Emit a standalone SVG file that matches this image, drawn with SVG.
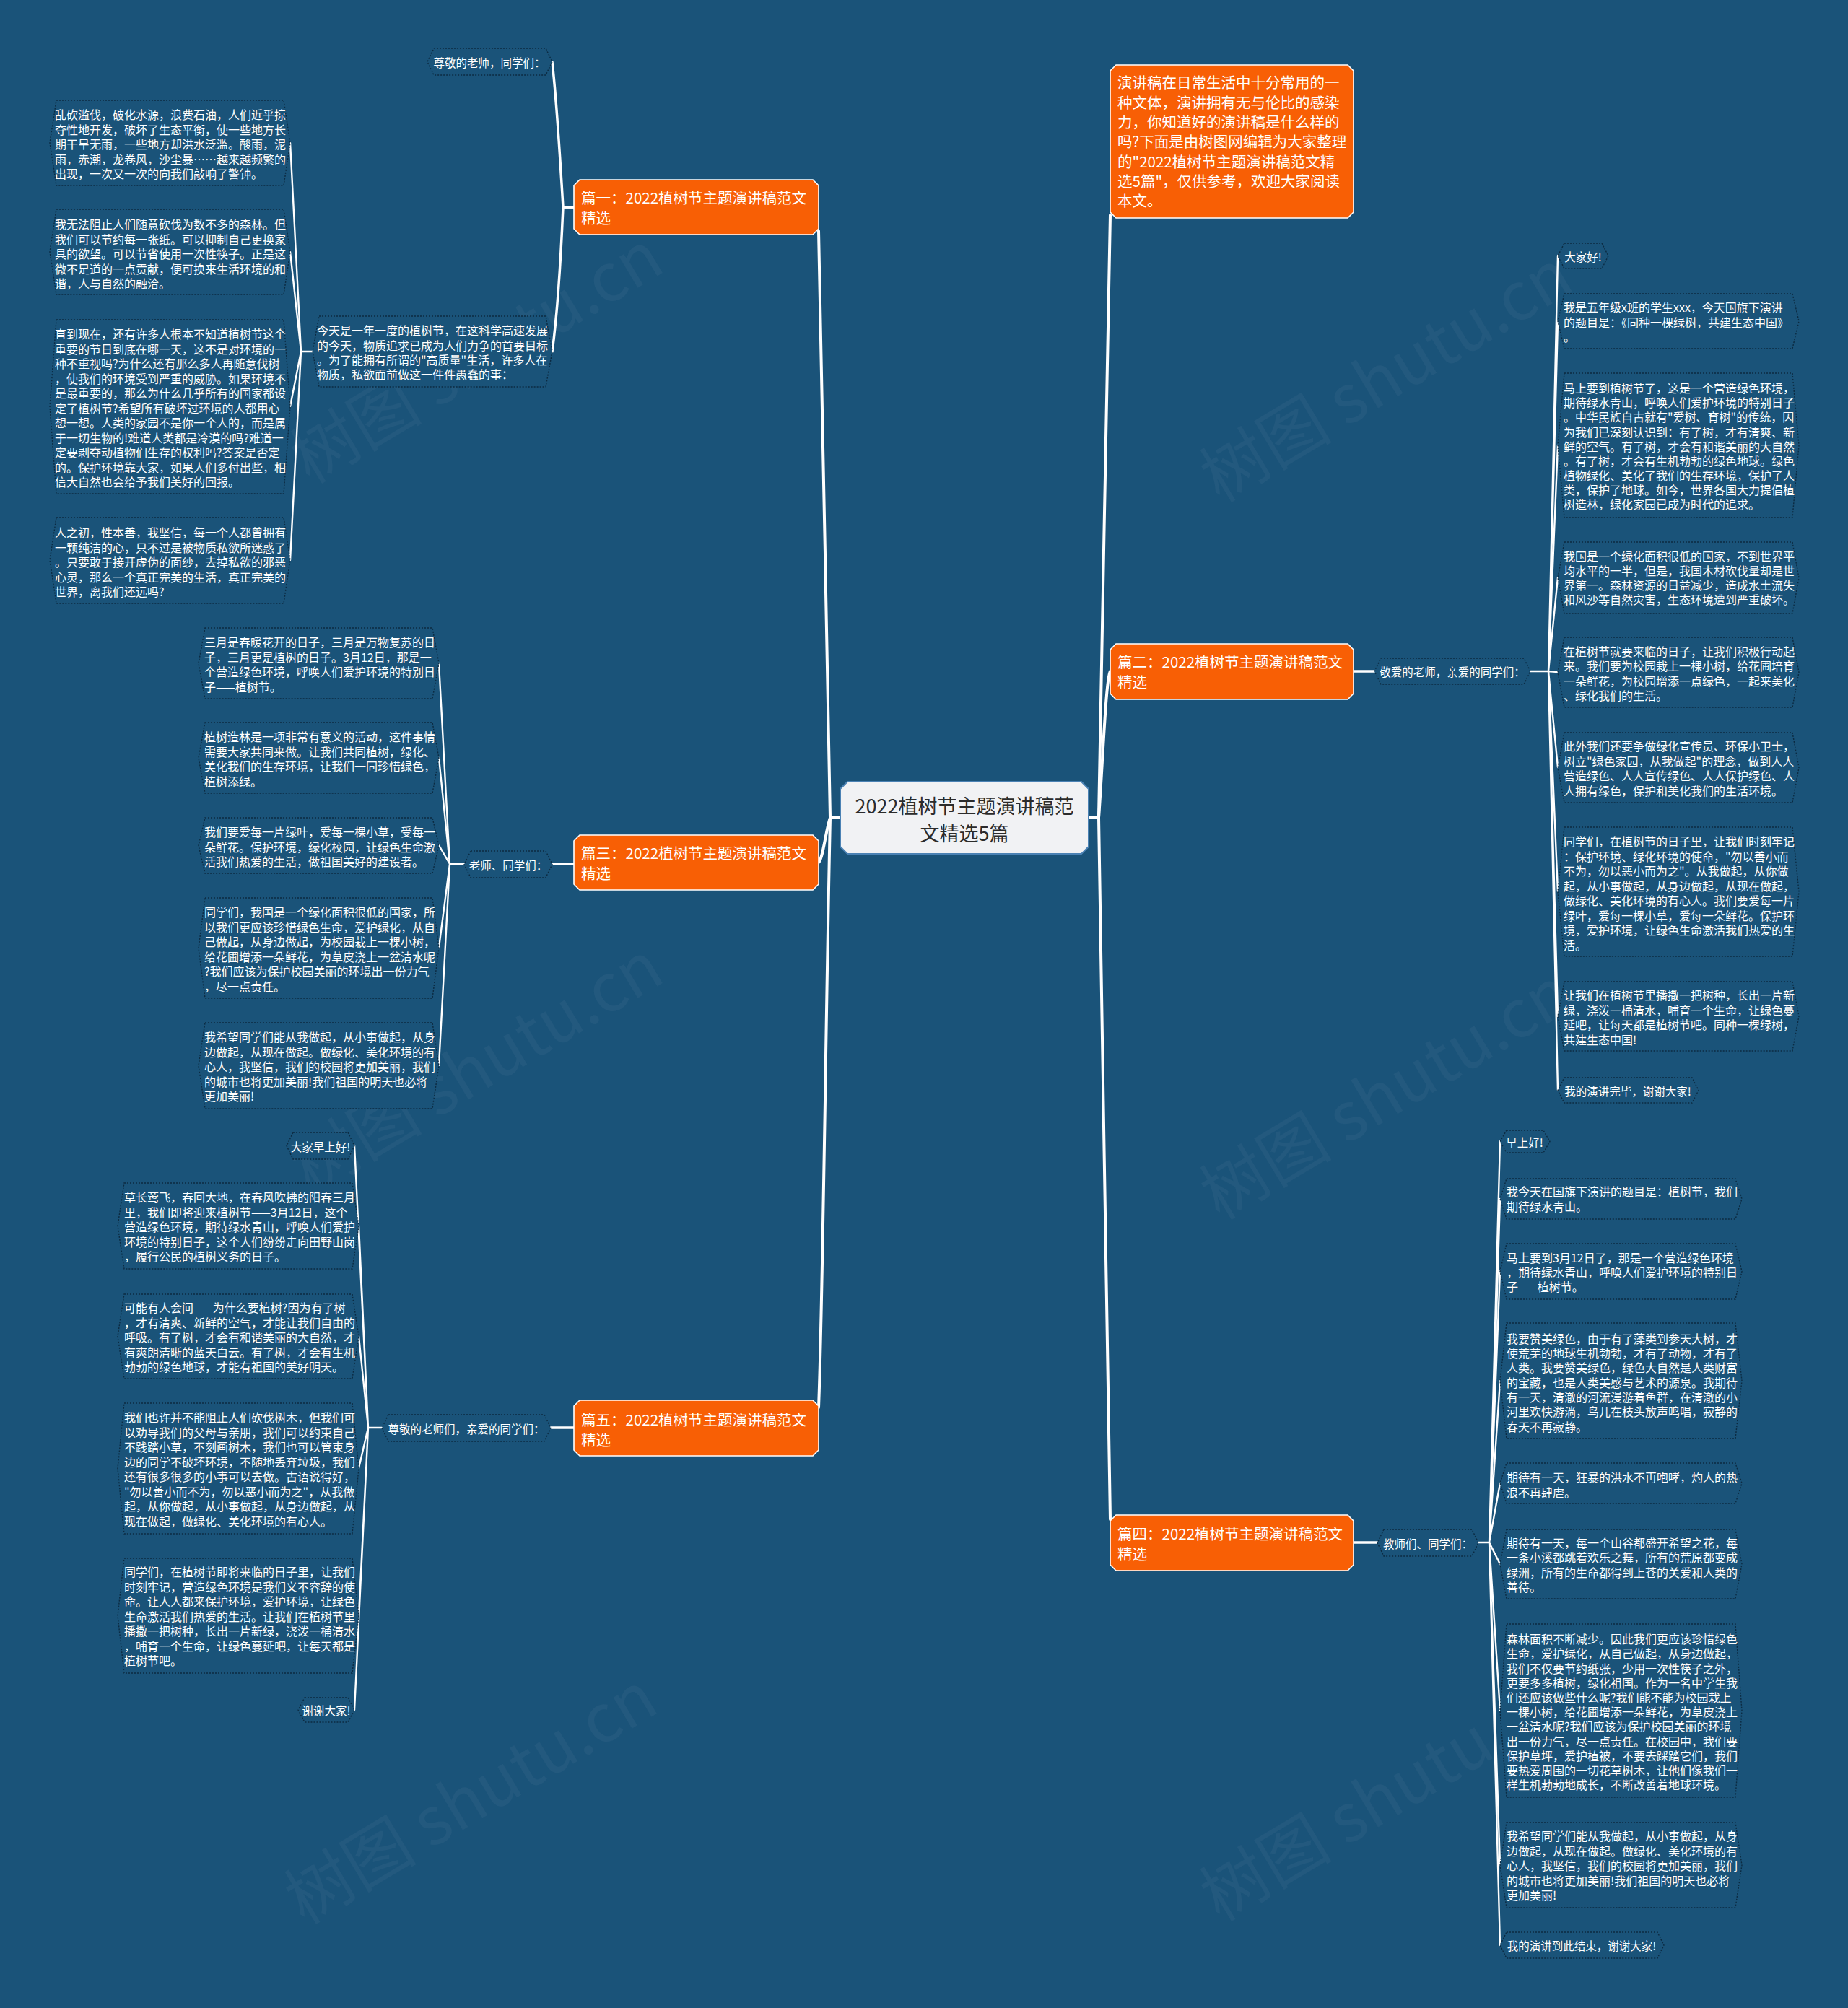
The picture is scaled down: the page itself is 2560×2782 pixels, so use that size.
<svg xmlns="http://www.w3.org/2000/svg" width="2560" height="2782" viewBox="0 0 2560 2782">
<style>
.bg{fill:#1a5379}
.wm{font-family:"Noto Sans CJK SC","Liberation Sans",sans-serif;font-size:92px;fill:#c0ccd6;fill-opacity:0.055}
.leaf{fill:#1a5379;stroke:#0c2b42;stroke-width:1.4;stroke-dasharray:2 2}
.lt{font-family:"Noto Sans CJK SC","Liberation Sans",sans-serif;font-size:16px;fill:#ffffff;dominant-baseline:central}
.st{font-family:"Noto Sans CJK SC","Liberation Sans",sans-serif;font-size:15.5px;fill:#ffffff;dominant-baseline:central;text-anchor:middle}
.org{fill:#f85f05;stroke:#ffffff;stroke-width:1.6}
.ot{font-family:"Noto Sans CJK SC","Liberation Sans",sans-serif;font-size:20.5px;fill:#ffffff;dominant-baseline:central}
.ctr{fill:#f1f2f4;stroke:#4b82b4;stroke-width:2}
.ct{font-family:"Noto Sans CJK SC","Liberation Sans",sans-serif;font-size:27px;fill:#2b2b2b;dominant-baseline:central;text-anchor:middle}
.e1{fill:none;stroke:#ffffff;stroke-width:4;stroke-linecap:round;stroke-linejoin:round}
.e2{fill:none;stroke:#ffffff;stroke-width:3.5;stroke-linecap:round;stroke-linejoin:round}
.e3{fill:none;stroke:#ffffff;stroke-width:2.4;stroke-linecap:round;stroke-linejoin:round}
</style>
<rect class="bg" x="0" y="0" width="2560" height="2782"/>

<g id="watermarks">
<text class="wm" transform="translate(656,488) rotate(-31)" text-anchor="middle" dominant-baseline="central">树图 shutu.cn</text>
<text class="wm" transform="translate(656,1472) rotate(-31)" text-anchor="middle" dominant-baseline="central">树图 shutu.cn</text>
<text class="wm" transform="translate(648,2484) rotate(-31)" text-anchor="middle" dominant-baseline="central">树图 shutu.cn</text>
<text class="wm" transform="translate(1916,514) rotate(-31)" text-anchor="middle" dominant-baseline="central">树图 shutu.cn</text>
<text class="wm" transform="translate(1916,1508) rotate(-31)" text-anchor="middle" dominant-baseline="central">树图 shutu.cn</text>
<text class="wm" transform="translate(1916,2480) rotate(-31)" text-anchor="middle" dominant-baseline="central">树图 shutu.cn</text>
</g>

<g id="connectors">
<path class="e1" d="M1164,1133 H1150 C1144,900 1140,500 1134,320"/>
<path class="e1" d="M1164,1133 H1150 C1144,1150 1140,1190 1134,1195"/>
<path class="e1" d="M1164,1133 H1150 C1144,1400 1140,1800 1134,1950"/>
<path class="e1" d="M1508,1133 H1522 C1528,900 1532,500 1538,298"/>
<path class="e1" d="M1508,1133 H1522 C1528,1050 1532,940 1538,930"/>
<path class="e1" d="M1508,1133 H1522 C1528,1400 1532,1850 1538,2105"/>
<path class="e2" d="M795,287 H780 C776,220 770,130 765,86"/>
<path class="e2" d="M795,287 H780 C776,380 770,450 765,487"/>
<path class="e2" d="M795,1197 H765"/>
<path class="e2" d="M795,1978 H763"/>
<path class="e2" d="M1875,930 H1904"/>
<path class="e2" d="M1875,2137 H1908"/>
<path class="e3" d="M433,487 H417 L402,198 M417,487 L402,349 M417,487 L402,563 M417,487 L402,776"/>
<path class="e3" d="M643,1197 H623 L608,919 M623,1197 L608,1050 M623,1197 L608,1171 M623,1197 L608,1313 M623,1197 L608,1476"/>
<path class="e3" d="M529,1978 H510 L491,1587 M510,1978 L497,1698 M510,1978 L497,1851 M510,1978 L497,2034 M510,1978 L497,2238 M510,1978 L491,2369"/>
<path class="e3" d="M2120,930 H2145 L2158,354 M2145,930 L2158,445 M2145,930 L2158,617 M2145,930 L2158,800 M2145,930 L2158,931 M2145,930 L2158,1063 M2145,930 L2158,1235 M2145,930 L2158,1408 M2145,930 L2158,1510"/>
<path class="e3" d="M2048,2137 H2063 L2078,1581 M2063,2137 L2078,1661 M2063,2137 L2078,1761 M2063,2137 L2078,1913 M2063,2137 L2078,2055 M2063,2137 L2078,2167 M2063,2137 L2078,2370 M2063,2137 L2078,2584 M2063,2137 L2078,2695"/>
</g>

<g id="center">
<path class="ctr" d="M1174,1083 H1498 L1508,1093 V1173 L1498,1183 H1174 L1164,1173 V1093 Z"/>
<text class="ct" x="1336" y="1115">2022植树节主题演讲稿范</text>
<text class="ct" x="1336" y="1153">文精选5篇</text>
</g>

<g id="intro">
<path class="org" d="M1546,90 H1867 L1875,98 V294 L1867,302 H1546 L1538,294 V98 Z"/>
<text class="ot"><tspan x="1548" y="113">演讲稿在日常生活中十分常用的一</tspan><tspan x="1548" y="140.5">种文体，演讲拥有无与伦比的感染</tspan><tspan x="1548" y="168">力，你知道好的演讲稿是什么样的</tspan><tspan x="1548" y="195">吗?下面是由树图网编辑为大家整理</tspan><tspan x="1548" y="222.5">的"2022植树节主题演讲稿范文精</tspan><tspan x="1548" y="250">选5篇"，仅供参考，欢迎大家阅读</tspan><tspan x="1548" y="277">本文。</tspan></text>
</g>

<!-- 篇一 -->
<g id="p1">
<path class="org" d="M803,249 H1126 L1134,257 V317 L1126,325 H803 L795,317 V257 Z"/>
<text class="ot"><tspan x="805" y="273">篇一：2022植树节主题演讲稿范文</tspan><tspan x="805" y="301">精选</tspan></text>
</g>
<g id="p1-greet">
<polygon class="leaf" points="601,67 756,67 765,85.5 756,104 601,104 592,85.5"/>
<text class="st" x="678" y="85.5">尊敬的老师，同学们：</text>
</g>
<g id="p1-intro">
<polygon class="leaf" points="442,438 756,438 765,487 756,536 442,536 433,487"/>
<text class="lt"><tspan x="439" y="457">今天是一年一度的植树节，在这科学高速发展</tspan><tspan x="439" y="478">的今天，物质追求已成为人们力争的首要目标</tspan><tspan x="439" y="498">。为了能拥有所谓的"高质量"生活，许多人在</tspan><tspan x="439" y="518">物质，私欲面前做这一件件愚蠢的事：</tspan></text>
</g>
<g id="p1-l1">
<polygon class="leaf" points="78,139 393,139 402,198 393,257 78,257 69,198"/>
<text class="lt"><tspan x="76" y="158">乱砍滥伐，破化水源，浪费石油，人们近乎掠</tspan><tspan x="76" y="178.5">夺性地开发，破坏了生态平衡，使一些地方长</tspan><tspan x="76" y="199">期干旱无雨，一些地方却洪水泛滥。酸雨，泥</tspan><tspan x="76" y="219.5">雨，赤潮，龙卷风，沙尘暴……越来越频繁的</tspan><tspan x="76" y="240">出现，一次又一次的向我们敲响了警钟。</tspan></text>
</g>
<g id="p1-l2">
<polygon class="leaf" points="78,290 393,290 402,349 393,408 78,408 69,349"/>
<text class="lt"><tspan x="76" y="310">我无法阻止人们随意砍伐为数不多的森林。但</tspan><tspan x="76" y="330.5">我们可以节约每一张纸。可以抑制自己更换家</tspan><tspan x="76" y="351">具的欲望。可以节省使用一次性筷子。正是这</tspan><tspan x="76" y="371.5">微不足道的一点贡献，便可换来生活环境的和</tspan><tspan x="76" y="392">谐，人与自然的融洽。</tspan></text>
</g>
<g id="p1-l3">
<polygon class="leaf" points="78,443 393,443 402,563 393,684 78,684 69,563"/>
<text class="lt"><tspan x="76" y="462">直到现在，还有许多人根本不知道植树节这个</tspan><tspan x="76" y="482.5">重要的节日到底在哪一天，这不是对环境的一</tspan><tspan x="76" y="503">种不重视吗?为什么还有那么多人再随意伐树</tspan><tspan x="76" y="523.5">，使我们的环境受到严重的威胁。如果环境不</tspan><tspan x="76" y="544">是最重要的，那么为什么几乎所有的国家都设</tspan><tspan x="76" y="564.5">定了植树节?希望所有破坏过环境的人都用心</tspan><tspan x="76" y="585">想一想。人类的家园不是你一个人的，而是属</tspan><tspan x="76" y="605.5">于一切生物的!难道人类都是冷漠的吗?难道一</tspan><tspan x="76" y="626">定要剥夺动植物们生存的权利吗?答案是否定</tspan><tspan x="76" y="646.5">的。保护环境靠大家，如果人们多付出些，相</tspan><tspan x="76" y="667">信大自然也会给予我们美好的回报。</tspan></text>
</g>
<g id="p1-l4">
<polygon class="leaf" points="78,717 393,717 402,776 393,836 78,836 69,776"/>
<text class="lt"><tspan x="76" y="737">人之初，性本善，我坚信，每一个人都曾拥有</tspan><tspan x="76" y="757.5">一颗纯洁的心，只不过是被物质私欲所迷惑了</tspan><tspan x="76" y="778">。只要敢于接开虚伪的面纱，去掉私欲的邪恶</tspan><tspan x="76" y="798.5">心灵，那么一个真正完美的生活，真正完美的</tspan><tspan x="76" y="819">世界，离我们还远吗?</tspan></text>
</g>

<!-- 篇三 -->
<g id="p3">
<path class="org" d="M803,1157 H1126 L1134,1165 V1225 L1126,1233 H803 L795,1225 V1165 Z"/>
<text class="ot"><tspan x="805" y="1181">篇三：2022植树节主题演讲稿范文</tspan><tspan x="805" y="1209">精选</tspan></text>
</g>
<g id="p3-greet">
<polygon class="leaf" points="652,1179 756,1179 765,1197.5 756,1216 652,1216 643,1197.5"/>
<text class="st" x="704" y="1197.5">老师、同学们：</text>
</g>
<g id="p3-l1">
<polygon class="leaf" points="284,870 599,870 608,919 599,968 284,968 275,919"/>
<text class="lt"><tspan x="283" y="889">三月是春暖花开的日子，三月是万物复苏的日</tspan><tspan x="283" y="909.5">子，三月更是植树的日子。3月12日，那是一</tspan><tspan x="283" y="930">个营造绿色环境，呼唤人们爱护环境的特别日</tspan><tspan x="283" y="950.5">子——植树节。</tspan></text>
</g>
<g id="p3-l2">
<polygon class="leaf" points="284,1001 599,1001 608,1050 599,1099 284,1099 275,1050"/>
<text class="lt"><tspan x="283" y="1020">植树造林是一项非常有意义的活动，这件事情</tspan><tspan x="283" y="1040.5">需要大家共同来做。让我们共同植树，绿化、</tspan><tspan x="283" y="1061">美化我们的生存环境，让我们一同珍惜绿色，</tspan><tspan x="283" y="1081.5">植树添绿。</tspan></text>
</g>
<g id="p3-l3">
<polygon class="leaf" points="284,1133 599,1133 608,1171.5 599,1210 284,1210 275,1171.5"/>
<text class="lt"><tspan x="283" y="1152">我们要爱每一片绿叶，爱每一棵小草，受每一</tspan><tspan x="283" y="1172.5">朵鲜花。保护环境，绿化校园，让绿色生命激</tspan><tspan x="283" y="1193">活我们热爱的生活，做祖国美好的建设者。</tspan></text>
</g>
<g id="p3-l4">
<polygon class="leaf" points="284,1244 599,1244 608,1313.5 599,1383 284,1383 275,1313.5"/>
<text class="lt"><tspan x="283" y="1263">同学们，我国是一个绿化面积很低的国家，所</tspan><tspan x="283" y="1283.5">以我们更应该珍惜绿色生命，爱护绿化，从自</tspan><tspan x="283" y="1304">己做起，从身边做起，为校园栽上一棵小树，</tspan><tspan x="283" y="1324.5">给花圃增添一朵鲜花，为草皮浇上一盆清水呢</tspan><tspan x="283" y="1345">?我们应该为保护校园美丽的环境出一份力气</tspan><tspan x="283" y="1365.5">，尽一点责任。</tspan></text>
</g>
<g id="p3-l5">
<polygon class="leaf" points="284,1417 599,1417 608,1476.5 599,1536 284,1536 275,1476.5"/>
<text class="lt"><tspan x="283" y="1436">我希望同学们能从我做起，从小事做起，从身</tspan><tspan x="283" y="1456.5">边做起，从现在做起。做绿化、美化环境的有</tspan><tspan x="283" y="1477">心人，我坚信，我们的校园将更加美丽，我们</tspan><tspan x="283" y="1497.5">的城市也将更加美丽!我们祖国的明天也必将</tspan><tspan x="283" y="1518">更加美丽!</tspan></text>
</g>

<!-- 篇五 -->
<g id="p5">
<path class="org" d="M803,1940 H1126 L1134,1948 V2009 L1126,2017 H803 L795,2009 V1948 Z"/>
<text class="ot"><tspan x="805" y="1966">篇五：2022植树节主题演讲稿范文</tspan><tspan x="805" y="1994">精选</tspan></text>
</g>
<g id="p5-greet">
<polygon class="leaf" points="538,1960 754,1960 763,1978.5 754,1997 538,1997 529,1978.5"/>
<text class="st" x="646" y="1978.5">尊敬的老师们，亲爱的同学们：</text>
</g>
<g id="p5-hello">
<polygon class="leaf" points="406,1569 482,1569 491,1587.5 482,1606 406,1606 397,1587.5"/>
<text class="st" x="444" y="1587.5">大家早上好!</text>
</g>
<g id="p5-l1">
<polygon class="leaf" points="172,1639 488,1639 497,1698.5 488,1758 172,1758 163,1698.5"/>
<text class="lt"><tspan x="172" y="1658">草长莺飞，春回大地，在春风吹拂的阳春三月</tspan><tspan x="172" y="1678.5">里，我们即将迎来植树节——3月12日，这个</tspan><tspan x="172" y="1699">营造绿色环境，期待绿水青山，呼唤人们爱护</tspan><tspan x="172" y="1719.5">环境的特别日子，这个人们纷纷走向田野山岗</tspan><tspan x="172" y="1740">，履行公民的植树义务的日子。</tspan></text>
</g>
<g id="p5-l2">
<polygon class="leaf" points="172,1793 488,1793 497,1851.5 488,1910 172,1910 163,1851.5"/>
<text class="lt"><tspan x="172" y="1811">可能有人会问——为什么要植树?因为有了树</tspan><tspan x="172" y="1831.5">，才有清爽、新鲜的空气，才能让我们自由的</tspan><tspan x="172" y="1852">呼吸。有了树，才会有和谐美丽的大自然，才</tspan><tspan x="172" y="1872.5">有爽朗清晰的蓝天白云。有了树，才会有生机</tspan><tspan x="172" y="1893">勃勃的绿色地球，才能有祖国的美好明天。</tspan></text>
</g>
<g id="p5-l3">
<polygon class="leaf" points="172,1944 488,1944 497,2034.5 488,2125 172,2125 163,2034.5"/>
<text class="lt"><tspan x="172" y="1963">我们也许并不能阻止人们砍伐树木，但我们可</tspan><tspan x="172" y="1983.5">以劝导我们的父母与亲朋，我们可以约束自己</tspan><tspan x="172" y="2004">不践踏小草，不刻画树木，我们也可以管束身</tspan><tspan x="172" y="2024.5">边的同学不破坏环境，不随地丢弃垃圾，我们</tspan><tspan x="172" y="2045">还有很多很多的小事可以去做。古语说得好，</tspan><tspan x="172" y="2065.5">"勿以善小而不为，勿以恶小而为之"，从我做</tspan><tspan x="172" y="2086">起，从你做起，从小事做起，从身边做起，从</tspan><tspan x="172" y="2106.5">现在做起，做绿化、美化环境的有心人。</tspan></text>
</g>
<g id="p5-l4">
<polygon class="leaf" points="172,2159 488,2159 497,2238.5 488,2318 172,2318 163,2238.5"/>
<text class="lt"><tspan x="172" y="2177">同学们，在植树节即将来临的日子里，让我们</tspan><tspan x="172" y="2197.5">时刻牢记，营造绿色环境是我们义不容辞的使</tspan><tspan x="172" y="2218">命。让人人都来保护环境，爱护环境，让绿色</tspan><tspan x="172" y="2238.5">生命激活我们热爱的生活。让我们在植树节里</tspan><tspan x="172" y="2259">播撒一把树种，长出一片新绿，浇泼一桶清水</tspan><tspan x="172" y="2279.5">，哺育一个生命，让绿色蔓延吧，让每天都是</tspan><tspan x="172" y="2300">植树节吧。</tspan></text>
</g>
<g id="p5-thanks">
<polygon class="leaf" points="422,2352 482,2352 491,2369 482,2386 422,2386 413,2369"/>
<text class="st" x="452" y="2369">谢谢大家!</text>
</g>

<!-- 篇二 -->
<g id="p2">
<path class="org" d="M1546,892 H1867 L1875,900 V961 L1867,969 H1546 L1538,961 V900 Z"/>
<text class="ot"><tspan x="1548" y="916">篇二：2022植树节主题演讲稿范文</tspan><tspan x="1548" y="944">精选</tspan></text>
</g>
<g id="p2-greet">
<polygon class="leaf" points="1913,912 2111,912 2120,930 2111,948 1913,948 1904,930"/>
<text class="st" x="2012" y="930">敬爱的老师，亲爱的同学们：</text>
</g>
<g id="p2-hello">
<polygon class="leaf" points="2167,337 2219,337 2228,354.5 2219,372 2167,372 2158,354.5"/>
<text class="st" x="2193" y="354.5">大家好!</text>
</g>
<g id="p2-l1">
<polygon class="leaf" points="2167,407 2483,407 2492,445 2483,483 2167,483 2158,445"/>
<text class="lt"><tspan x="2166" y="425">我是五年级x班的学生xxx，今天国旗下演讲</tspan><tspan x="2166" y="445.5">的题目是：《同种一棵绿树，共建生态中国》</tspan><tspan x="2166" y="466">。</tspan></text>
</g>
<g id="p2-l2">
<polygon class="leaf" points="2167,517 2483,517 2492,617 2483,717 2167,717 2158,617"/>
<text class="lt"><tspan x="2166" y="537">马上要到植树节了，这是一个营造绿色环境，</tspan><tspan x="2166" y="557">期待绿水青山，呼唤人们爱护环境的特别日子</tspan><tspan x="2166" y="577">。中华民族自古就有"爱树、育树"的传统，因</tspan><tspan x="2166" y="597.5">为我们已深刻认识到：有了树，才有清爽、新</tspan><tspan x="2166" y="618">鲜的空气。有了树，才会有和谐美丽的大自然</tspan><tspan x="2166" y="638">。有了树，才会有生机勃勃的绿色地球。绿色</tspan><tspan x="2166" y="658">植物绿化、美化了我们的生存环境，保护了人</tspan><tspan x="2166" y="678">类，保护了地球。如今，世界各国大力提倡植</tspan><tspan x="2166" y="698">树造林，绿化家园已成为时代的追求。</tspan></text>
</g>
<g id="p2-l3">
<polygon class="leaf" points="2167,751 2483,751 2492,800.5 2483,850 2167,850 2158,800.5"/>
<text class="lt"><tspan x="2166" y="770">我国是一个绿化面积很低的国家，不到世界平</tspan><tspan x="2166" y="790">均水平的一半，但是，我国木材砍伐量却是世</tspan><tspan x="2166" y="810">界第一。森林资源的日益减少，造成水土流失</tspan><tspan x="2166" y="830">和风沙等自然灾害，生态环境遭到严重破坏。</tspan></text>
</g>
<g id="p2-l4">
<polygon class="leaf" points="2167,883 2483,883 2492,931.5 2483,980 2167,980 2158,931.5"/>
<text class="lt"><tspan x="2166" y="902">在植树节就要来临的日子，让我们积极行动起</tspan><tspan x="2166" y="922">来。我们要为校园栽上一棵小树，给花圃培育</tspan><tspan x="2166" y="943">一朵鲜花，为校园增添一点绿色，一起来美化</tspan><tspan x="2166" y="963">、绿化我们的生活。</tspan></text>
</g>
<g id="p2-l5">
<polygon class="leaf" points="2167,1015 2483,1015 2492,1063.5 2483,1112 2167,1112 2158,1063.5"/>
<text class="lt"><tspan x="2166" y="1033">此外我们还要争做绿化宣传员、环保小卫士，</tspan><tspan x="2166" y="1053.5">树立"绿色家园，从我做起"的理念，做到人人</tspan><tspan x="2166" y="1074">营造绿色、人人宣传绿色、人人保护绿色、人</tspan><tspan x="2166" y="1094.5">人拥有绿色，保护和美化我们的生活环境。</tspan></text>
</g>
<g id="p2-l6">
<polygon class="leaf" points="2167,1146 2483,1146 2492,1235.5 2483,1325 2167,1325 2158,1235.5"/>
<text class="lt"><tspan x="2166" y="1165">同学们，在植树节的日子里，让我们时刻牢记</tspan><tspan x="2166" y="1185.5">：保护环境、绿化环境的使命，"勿以善小而</tspan><tspan x="2166" y="1206">不为，勿以恶小而为之"。从我做起，从你做</tspan><tspan x="2166" y="1226.5">起，从小事做起，从身边做起，从现在做起，</tspan><tspan x="2166" y="1247">做绿化、美化环境的有心人。我们要爱每一片</tspan><tspan x="2166" y="1267.5">绿叶，爱每一棵小草，爱每一朵鲜花。保护环</tspan><tspan x="2166" y="1288">境，爱护环境，让绿色生命激活我们热爱的生</tspan><tspan x="2166" y="1308.5">活。</tspan></text>
</g>
<g id="p2-l7">
<polygon class="leaf" points="2167,1360 2483,1360 2492,1408 2483,1456 2167,1456 2158,1408"/>
<text class="lt"><tspan x="2166" y="1378">让我们在植树节里播撒一把树种，长出一片新</tspan><tspan x="2166" y="1398.5">绿，浇泼一桶清水，哺育一个生命，让绿色蔓</tspan><tspan x="2166" y="1419">延吧，让每天都是植树节吧。同种一棵绿树，</tspan><tspan x="2166" y="1439.5">共建生态中国!</tspan></text>
</g>
<g id="p2-end">
<polygon class="leaf" points="2167,1493 2344,1493 2353,1510.5 2344,1528 2167,1528 2158,1510.5"/>
<text class="st" x="2255" y="1510.5">我的演讲完毕，谢谢大家!</text>
</g>

<!-- 篇四 -->
<g id="p4">
<path class="org" d="M1546,2099 H1867 L1875,2107 V2168 L1867,2176 H1546 L1538,2168 V2107 Z"/>
<text class="ot"><tspan x="1548" y="2124">篇四：2022植树节主题演讲稿范文</tspan><tspan x="1548" y="2152">精选</tspan></text>
</g>
<g id="p4-greet">
<polygon class="leaf" points="1917,2119 2039,2119 2048,2137.5 2039,2156 1917,2156 1908,2137.5"/>
<text class="st" x="1978" y="2137.5">教师们、同学们：</text>
</g>
<g id="p4-hello">
<polygon class="leaf" points="2087,1566 2138,1566 2147,1581.5 2138,1597 2087,1597 2078,1581.5"/>
<text class="st" x="2112" y="1581.5">早上好!</text>
</g>
<g id="p4-l1">
<polygon class="leaf" points="2087,1633 2404,1633 2413,1661 2404,1689 2087,1689 2078,1661"/>
<text class="lt"><tspan x="2087" y="1650">我今天在国旗下演讲的题目是：植树节，我们</tspan><tspan x="2087" y="1670.5">期待绿水青山。</tspan></text>
</g>
<g id="p4-l2">
<polygon class="leaf" points="2087,1723 2404,1723 2413,1761.5 2404,1800 2087,1800 2078,1761.5"/>
<text class="lt"><tspan x="2087" y="1742">马上要到3月12日了，那是一个营造绿色环境</tspan><tspan x="2087" y="1762">，期待绿水青山，呼唤人们爱护环境的特别日</tspan><tspan x="2087" y="1782">子——植树节。</tspan></text>
</g>
<g id="p4-l3">
<polygon class="leaf" points="2087,1833 2404,1833 2413,1913 2404,1993 2087,1993 2078,1913"/>
<text class="lt"><tspan x="2087" y="1854">我要赞美绿色，由于有了藻类到参天大树，才</tspan><tspan x="2087" y="1874">使荒芜的地球生机勃勃，才有了动物，才有了</tspan><tspan x="2087" y="1894">人类。我要赞美绿色，绿色大自然是人类财富</tspan><tspan x="2087" y="1914.5">的宝藏，也是人类美感与艺术的源泉。我期待</tspan><tspan x="2087" y="1935">有一天，清澈的河流漫游着鱼群，在清澈的小</tspan><tspan x="2087" y="1955">河里欢快游淌，鸟儿在枝头放声鸣唱，寂静的</tspan><tspan x="2087" y="1975.5">春天不再寂静。</tspan></text>
</g>
<g id="p4-l4">
<polygon class="leaf" points="2087,2027 2404,2027 2413,2055 2404,2083 2087,2083 2078,2055"/>
<text class="lt"><tspan x="2087" y="2046">期待有一天，狂暴的洪水不再咆哮，灼人的热</tspan><tspan x="2087" y="2067">浪不再肆虐。</tspan></text>
</g>
<g id="p4-l5">
<polygon class="leaf" points="2087,2119 2404,2119 2413,2167 2404,2215 2087,2215 2078,2167"/>
<text class="lt"><tspan x="2087" y="2137">期待有一天，每一个山谷都盛开希望之花，每</tspan><tspan x="2087" y="2157">一条小溪都跳着欢乐之舞，所有的荒原都变成</tspan><tspan x="2087" y="2177.5">绿洲，所有的生命都得到上苍的关爱和人类的</tspan><tspan x="2087" y="2198">善待。</tspan></text>
</g>
<g id="p4-l6">
<polygon class="leaf" points="2087,2250 2404,2250 2413,2370 2404,2490 2087,2490 2078,2370"/>
<text class="lt"><tspan x="2087" y="2270">森林面积不断减少。因此我们更应该珍惜绿色</tspan><tspan x="2087" y="2290">生命，爱护绿化，从自己做起，从身边做起，</tspan><tspan x="2087" y="2310.5">我们不仅要节约纸张，少用一次性筷子之外，</tspan><tspan x="2087" y="2330.5">更要多多植树，绿化祖国。作为一名中学生我</tspan><tspan x="2087" y="2351">们还应该做些什么呢?我们能不能为校园栽上</tspan><tspan x="2087" y="2371">一棵小树，给花圃增添一朵鲜花，为草皮浇上</tspan><tspan x="2087" y="2391">一盆清水呢?我们应该为保护校园美丽的环境</tspan><tspan x="2087" y="2411.5">出一份力气，尽一点责任。在校园中，我们要</tspan><tspan x="2087" y="2432">保护草坪，爱护植被，不要去踩踏它们，我们</tspan><tspan x="2087" y="2452">要热爱周围的一切花草树木，让他们像我们一</tspan><tspan x="2087" y="2472">样生机勃勃地成长，不断改善着地球环境。</tspan></text>
</g>
<g id="p4-l7">
<polygon class="leaf" points="2087,2525 2404,2525 2413,2584 2404,2643 2087,2643 2078,2584"/>
<text class="lt"><tspan x="2087" y="2543">我希望同学们能从我做起，从小事做起，从身</tspan><tspan x="2087" y="2563.5">边做起，从现在做起。做绿化、美化环境的有</tspan><tspan x="2087" y="2584">心人，我坚信，我们的校园将更加美丽，我们</tspan><tspan x="2087" y="2604.5">的城市也将更加美丽!我们祖国的明天也必将</tspan><tspan x="2087" y="2625">更加美丽!</tspan></text>
</g>
<g id="p4-end">
<polygon class="leaf" points="2087,2677 2296,2677 2305,2695 2296,2713 2087,2713 2078,2695"/>
<text class="st" x="2191" y="2695">我的演讲到此结束，谢谢大家!</text>
</g>
</svg>
